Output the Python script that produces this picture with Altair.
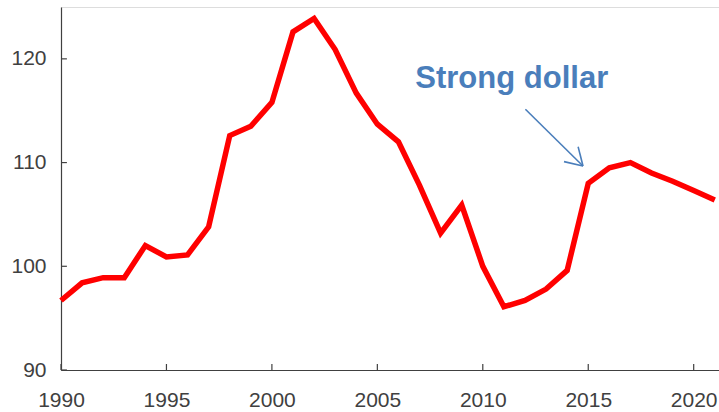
import altair as alt
import pandas as pd

years = list(range(1990, 2022))
values = [96.7, 98.4, 98.9, 98.9, 102.0, 100.9, 101.1, 103.8, 112.6, 113.5,
          115.8, 122.6, 123.9, 120.9, 116.7, 113.7, 112.0, 107.8, 103.2, 105.9,
          100.0, 96.1, 96.7, 97.8, 99.6, 108.0, 109.5, 110.0, 109.0, 108.2,
          107.3, 106.4]

x_ticks = [1990, 1995, 2000, 2005, 2010, 2015, 2020]
y_ticks = [90, 100, 110, 120]

annotation_text = ["Strong dollar"]
annotation_pos = [2006.8, 117.2]
# arrow segments: (x, y) -> (x2, y2) in data units
arrow_x = [2012.02, 2014.75, 2014.75]
arrow_y = [115.14, 109.67, 109.67]
arrow_x2 = [2014.75, 2013.85, 2014.52]
arrow_y2 = [109.67, 110.09, 111.53]

X_DOMAIN = [1990, 2021.2]
Y_DOMAIN = [90, 125]
FONT = "Liberation Sans"
AX_COLOR = "#404040"

df = pd.DataFrame({"year": years, "value": values})
xs = alt.Scale(domain=X_DOMAIN, nice=False, zero=False)
ys = alt.Scale(domain=Y_DOMAIN, nice=False, zero=False)

line = alt.Chart(df).mark_line(color="#FF0000", strokeWidth=5.5, strokeJoin="miter").encode(
    x=alt.X("year:Q", scale=xs, axis=alt.Axis(values=x_ticks, format="d", title=None, grid=False,
                                              tickSize=0, labelPadding=19, labelFont=FONT,
                                              labelFontSize=21, labelColor=AX_COLOR,
                                              labelFlush=False, labelOverlap=False,
                                              domainColor=AX_COLOR, domainWidth=1.2)),
    y=alt.Y("value:Q", scale=ys, axis=alt.Axis(values=y_ticks, title=None, grid=False,
                                               tickSize=0, labelPadding=15, labelFont=FONT,
                                               labelFontSize=21, labelColor=AX_COLOR,
                                               labelFlush=False, labelOverlap=False,
                                               domainColor=AX_COLOR, domainWidth=1.2)),
)

xt = pd.DataFrame({"x": x_ticks, "y": [Y_DOMAIN[0]] * len(x_ticks), "y2": [Y_DOMAIN[0] + 0.58] * len(x_ticks)})
xtick = alt.Chart(xt).mark_rule(color=AX_COLOR, strokeWidth=1.2).encode(
    x=alt.X("x:Q", scale=xs), y=alt.Y("y:Q", scale=ys), y2="y2:Q")

yt = pd.DataFrame({"y": y_ticks, "x": [X_DOMAIN[0]] * len(y_ticks), "x2": [X_DOMAIN[0] + 0.28] * len(y_ticks)})
ytick = alt.Chart(yt).mark_rule(color=AX_COLOR, strokeWidth=1.2).encode(
    y=alt.Y("y:Q", scale=ys), x=alt.X("x:Q", scale=xs), x2="x2:Q")

tdf = pd.DataFrame({"t": annotation_text, "x": [annotation_pos[0]], "y": [annotation_pos[1]]})
text = alt.Chart(tdf).mark_text(align="left", baseline="alphabetic", font=FONT, fontSize=31,
                                fontWeight="bold", color="#4A7EBB").encode(
    x=alt.X("x:Q", scale=xs), y=alt.Y("y:Q", scale=ys), text="t:N")

adf = pd.DataFrame({"x": arrow_x, "y": arrow_y, "x2": arrow_x2, "y2": arrow_y2})
arrow = alt.Chart(adf).mark_rule(color="#4A7EBB", strokeWidth=1.6).encode(
    x=alt.X("x:Q", scale=xs), y=alt.Y("y:Q", scale=ys), x2="x2:Q", y2="y2:Q")

chart = alt.layer(line, xtick, ytick, text, arrow).properties(
    width=658, height=363,
    autosize=alt.AutoSizeParams(type="none"),
    padding={"left": 61, "top": 7, "right": 0, "bottom": 42},
).configure_view(stroke=None).configure(background="white")

chart.save("out.html", embed_options={"renderer": "svg", "actions": False})
